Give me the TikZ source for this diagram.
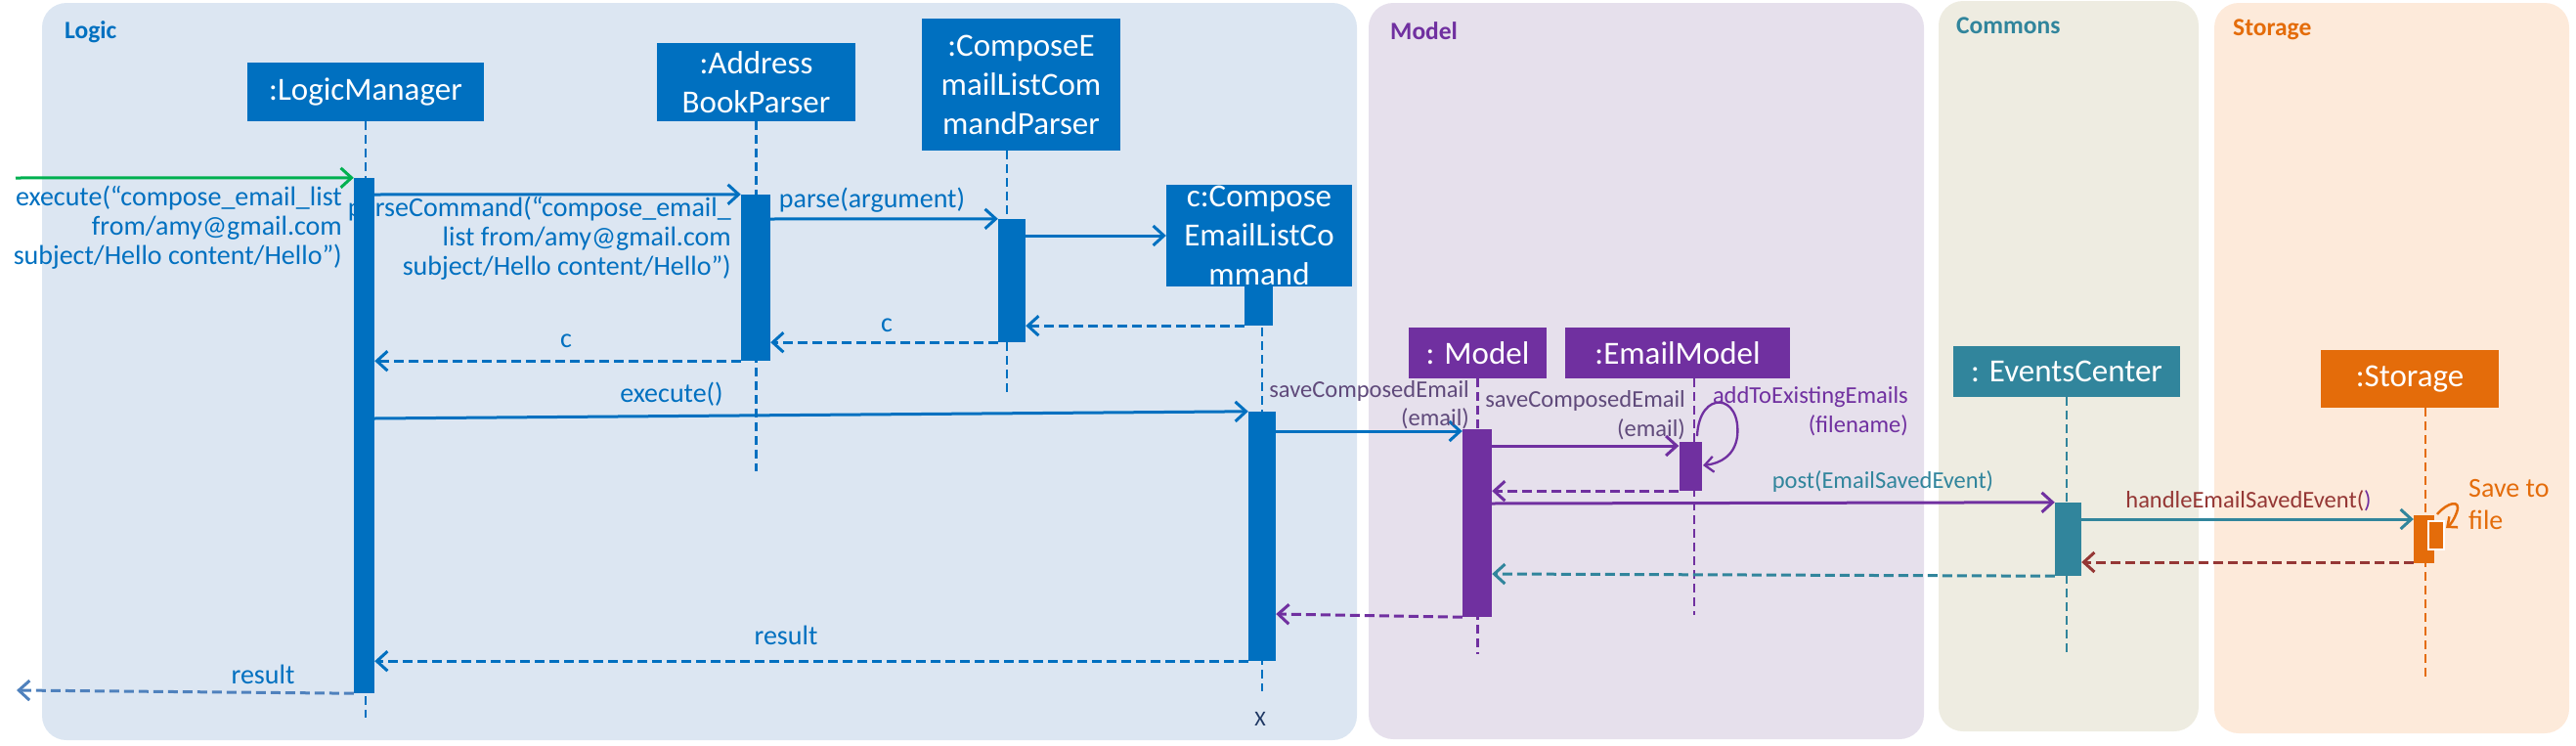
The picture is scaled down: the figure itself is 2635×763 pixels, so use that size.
\documentclass[tikz,border=0pt]{standalone}
\usepackage{fontspec}
\setmainfont{Carlito}
\usetikzlibrary{arrows.meta}
\definecolor{cBlue}{HTML}{0070C0}
\definecolor{cPurple}{HTML}{7030A0}
\definecolor{cTeal}{HTML}{31859C}
\definecolor{cOrange}{HTML}{E46C0A}
\definecolor{cRed}{HTML}{953735}
\definecolor{cGreen}{HTML}{00B050}
\definecolor{cMuted}{HTML}{604A7B}
\definecolor{cNavy}{HTML}{1F3864}
\definecolor{cLight}{HTML}{4F81BD}
\definecolor{pLogic}{HTML}{DCE6F2}
\definecolor{pModel}{HTML}{E6E0EC}
\definecolor{pCommons}{HTML}{EEECE1}
\definecolor{pStorage}{HTML}{FDEADA}
\tikzset{
  obj/.style={rectangle, inner sep=0pt, align=center, text=white, font=\fontsize{33}{40}\selectfont},
  actbar/.style={rectangle, inner sep=0pt, draw=none},
  life/.style={line width=2.3pt, dash pattern=on 9pt off 5pt},
  msg/.style={line width=3pt, -{Straight Barb[length=11pt,width=20pt,line width=3pt]}},
  ret/.style={msg, dash pattern=on 10pt off 5pt},
  lbl/.style={font=\fontsize{24.5}{30}\selectfont, inner sep=0pt},
  blbl/.style={font=\fontsize{28}{30}\selectfont, inner sep=0pt, text=cBlue},
  ptitle/.style={font=\bfseries\fontsize{25.5}{30}\selectfont, inner sep=0pt, anchor=west}
}
\begin{document}
\begin{tikzpicture}[x=1pt,y=-1pt]
\useasboundingbox (0,0) rectangle (2635,763);
% panels
\fill[pLogic, rounded corners=25pt] (43,3) rectangle (1388,757);
\fill[pModel, rounded corners=25pt] (1400,3) rectangle (1968,756);
\fill[pCommons, rounded corners=25pt] (1983,1) rectangle (2249,748);
\fill[pStorage, rounded corners=25pt] (2265,3) rectangle (2628,750);
\node[ptitle, text=cBlue] (tLogic) at (66,33) {Logic};
\node[ptitle, text=cPurple] (tModel) at (1422,32) {Model};
\node[ptitle, text=cTeal] (tCommons) at (2001,26) {Commons};
\node[ptitle, text=cOrange] (tStorage) at (2284,30) {Storage};

% object boxes
\node[obj, fill=cBlue, minimum width=242pt, minimum height=60pt] (lm) at (374,94) {:LogicManager};
\node[obj, fill=cBlue, minimum width=203pt, minimum height=80pt] (ab) at (773.5,84) {:Address\\BookParser};
\node[obj, fill=cBlue, minimum width=203pt, minimum height=135pt] (cp) at (1044.5,86.5) {:ComposeE\\mailListCom\\mandParser};
\node[obj, fill=cBlue, minimum width=190pt, minimum height=104pt] (cc) at (1288,241) {c:Compose\\EmailListCo\\mmand};
\node[obj, fill=cPurple, minimum width=141pt, minimum height=52pt] (md) at (1511.5,361) {: Model};
\node[obj, fill=cPurple, minimum width=230pt, minimum height=52pt] (em) at (1716,361) {:EmailModel};
\node[obj, fill=cTeal, minimum width=232pt, minimum height=52pt] (ec) at (2114,380) {: EventsCenter};
\node[obj, fill=cOrange, minimum width=182pt, minimum height=59pt] (st) at (2465,387.5) {:Storage};

% lifelines
\draw[life, cBlue] (lm.south) -- ++(0,610);
\draw[life, cBlue] (ab.south) -- ++(0,358);
\draw[life, cBlue] ([xshift=-14.5pt]cp.south) -- ++(0,247);
\draw[life, cBlue] ([xshift=3pt]cc.south) -- ++(0,414);
\draw[life, cPurple] (md.south) -- ++(0,282);
\draw[life, cPurple] ([xshift=17pt]em.south) -- ++(0,242);
\draw[life, cTeal] (ec.south) -- ++(0,264);
\draw[life, cOrange] ([xshift=16pt]st.south) -- ++(0,279);

% activation bars
\node[actbar, fill=cBlue, minimum width=21pt, minimum height=527pt] (lmA) at (372.5,445.5) {};
\node[actbar, fill=cBlue, minimum width=30pt, minimum height=170pt] (abA) at (773,284) {};
\node[actbar, fill=cBlue, minimum width=28pt, minimum height=126pt] (cpA) at (1035,287) {};
\node[actbar, fill=cBlue, minimum width=29pt, minimum height=40pt] (ccA1) at (1287.5,313) {};
\node[actbar, fill=cBlue, minimum width=28pt, minimum height=255pt] (ccA2) at (1291,548.5) {};
\node[actbar, fill=cPurple, minimum width=30pt, minimum height=192pt] (mdA) at (1511,535) {};
\node[actbar, fill=cPurple, minimum width=23pt, minimum height=50pt] (emA) at (1729,477) {};
\node[actbar, fill=cTeal, minimum width=27pt, minimum height=75pt] (ecA) at (2115.5,551.5) {};
\node[actbar, fill=cOrange, minimum width=21pt, minimum height=49pt] (stA) at (2479.5,551.5) {};
\node[actbar, fill=cOrange, draw=white, line width=2pt, minimum width=16pt, minimum height=29pt] (stB) at (2492,547.5) {};

% free ends
\coordinate (inStart) at (16,182);
\coordinate (outEnd) at (17,706);

% messages
\draw[msg, cGreen] (inStart) -- (lmA.north west);
\node[blbl, align=right, anchor=east] (l1) at (350,233) {execute(“compose\_email\_list\\from/amy@gmail.com\\subject/Hello content/Hello”)};

\draw[msg, cBlue] (lmA.east |- 0,199) -- (abA.north west);
\node[blbl, align=right, anchor=east] (l2) at (748,244) {parseCommand(“compose\_email\_\\list from/amy@gmail.com\\subject/Hello content/Hello”)};

\draw[msg, cBlue] (abA.east |- 0,224) -- (cpA.north west);
\node[blbl] (l3) at (892,205) {parse(argument)};

\draw[msg, cBlue] (cpA.east |- cc.west) -- (cc.west);

\draw[ret, cBlue] (ccA1.south west) -- (ccA1.south west -| cpA.east);
\draw[ret, cBlue] (cpA.south west) -- (cpA.south west -| abA.east);
\node[blbl] (l4) at (907,333) {c};
\draw[ret, cBlue] (abA.south west) -- (abA.south west -| lmA.east);
\node[blbl] (l5) at (579,349) {c};

\draw[msg, cBlue] (lmA.east |- 0,428) -- (ccA2.north west);
\node[blbl] (l6) at (687,403) {execute()};

\draw[msg, cBlue] (ccA2.east |- 0,441) -- (mdA.west |- 0,441);
\node[lbl, text=cMuted, align=right, anchor=east, font=\fontsize{24.5}{29}\selectfont] (l7) at (1503,414) {saveComposedEmail\\(email)};

\draw[msg, cPurple] (mdA.east |- 0,456) -- (emA.west |- 0,456);
\node[lbl, text=cMuted, align=right, anchor=east] (l8) at (1724,425) {saveComposedEmail\\(email)};

\draw[line width=2.3pt, cPurple, -{Straight Barb[length=9pt,width=16pt,line width=2.3pt]}] (1736,446) .. controls (1738,398) and (1782,402) .. (1777,447) .. controls (1774,466) and (1760,474) .. (1742,476);
\node[lbl, text=cPurple, align=right, anchor=east] (l9) at (1952,421) {addToExistingEmails\\(filename)};

\draw[ret, cPurple] (emA.south west) -- (emA.south west -| mdA.east);

\draw[msg, cPurple] (mdA.east |- 0,515) -- (ecA.north west);
\node[lbl, text=cTeal] (l10) at (1926,493) {post(EmailSavedEvent)};

\draw[msg, cTeal] (ecA.east |- 0,531) -- (stA.west |- 0,531);
\node[lbl, text=cRed] (l11) at (2300,512) {handleEmailSavedEvent(\textcolor{cPurple}{)}};

\draw[line width=2.5pt, cOrange, -{Straight Barb[length=8pt,width=14pt,line width=2.5pt]}] (2493,526) .. controls (2503,514) and (2518,510) .. (2513,524) .. controls (2510,532) and (2507,536) .. (2502,540);
\node[font=\fontsize{28}{33}\selectfont, inner sep=0pt, text=cOrange, align=left, anchor=west] (l12) at (2525,516.5) {Save to\\file};

\draw[ret, cRed] (stA.west |- 0,575) -- (ecA.east |- 0,575);
\draw[ret, cTeal] (ecA.south west) -- (mdA.east |- 0,587);
\draw[ret, cPurple] (mdA.south west) -- (ccA2.east |- 0,628);

\draw[ret, cBlue] (ccA2.south west) -- (ccA2.south west -| lmA.east);
\node[blbl] (l13) at (804,650) {result};

\draw[ret, cLight] (lmA.south west) -- (outEnd);
\node[blbl] (l14) at (269,690) {result};

\node[font=\fontsize{22}{26}\selectfont, inner sep=0pt, text=cNavy] (xEnd) at (1289,735) {X};
\end{tikzpicture}
\end{document}
